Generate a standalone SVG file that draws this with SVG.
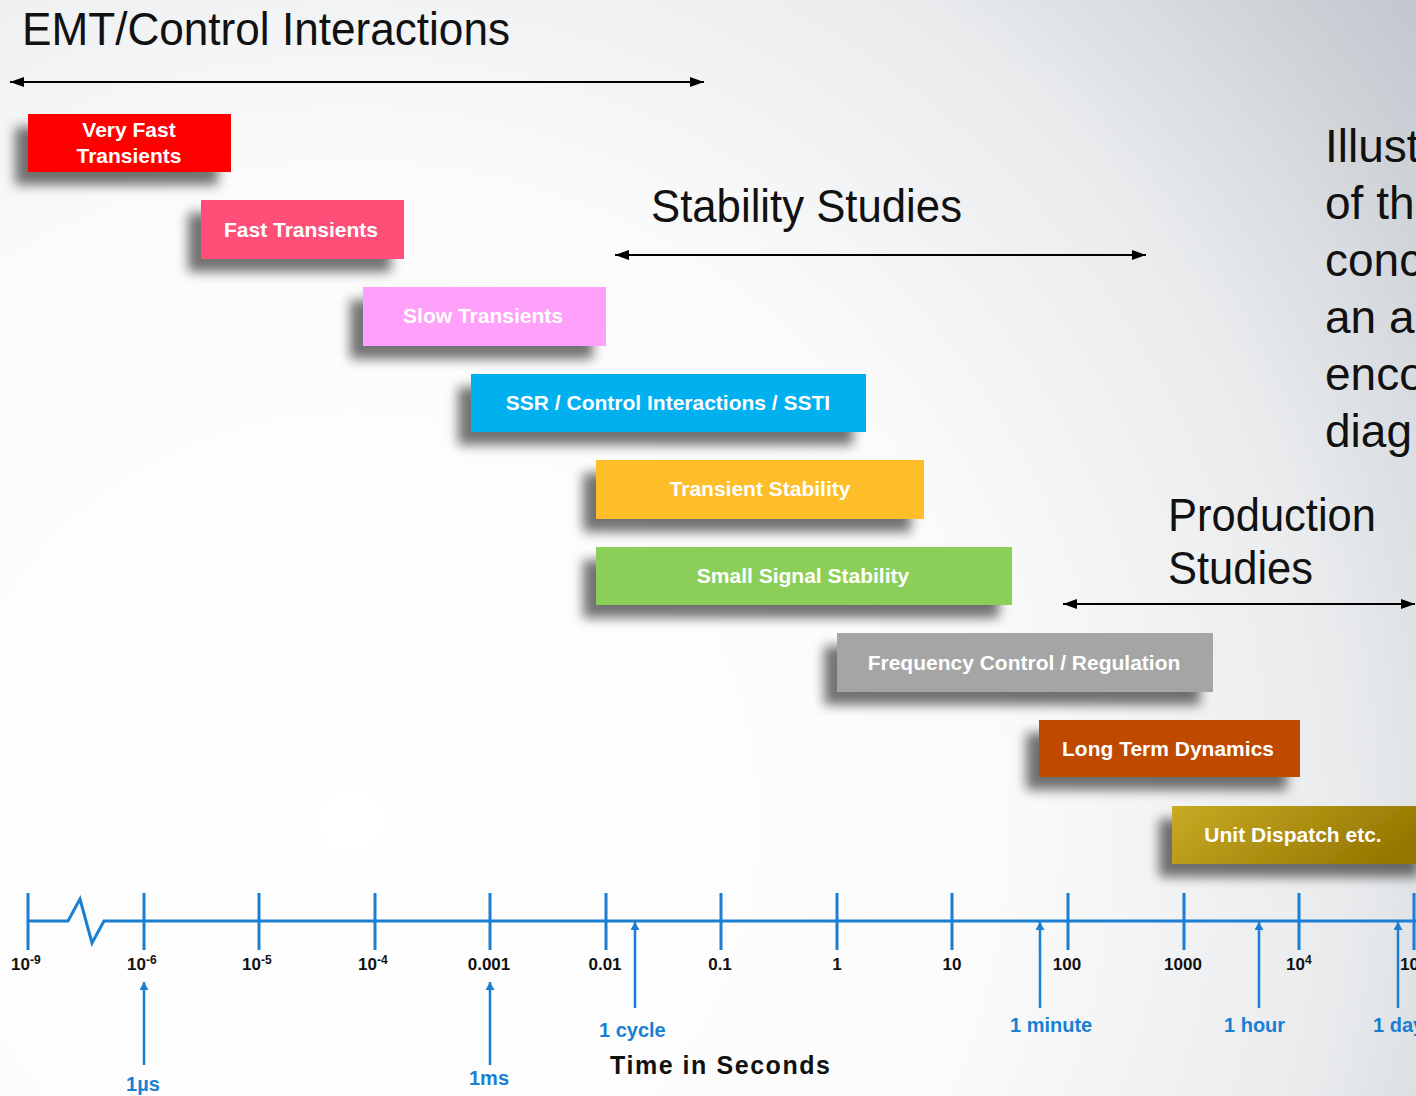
<svg xmlns="http://www.w3.org/2000/svg" width="1416" height="1096" viewBox="0 0 1416 1096">
  <defs>
    <radialGradient id="bg" gradientUnits="userSpaceOnUse" cx="350" cy="820" r="1420">
      <stop offset="0" stop-color="#ffffff"/>
      <stop offset="0.45" stop-color="#fbfbfb"/>
      <stop offset="0.7" stop-color="#e9ebed"/>
      <stop offset="1" stop-color="#b9bfc7"/>
    </radialGradient>
    <linearGradient id="gold" x1="0" y1="0" x2="1" y2="0.3">
      <stop offset="0" stop-color="#c9aa25"/>
      <stop offset="1" stop-color="#957700"/>
    </linearGradient>
    <filter id="shadow" x="-20%" y="-30%" width="140%" height="180%">
      <feGaussianBlur in="SourceAlpha" stdDeviation="6"/>
      <feOffset dx="-13" dy="13"/>
      <feComponentTransfer><feFuncA type="linear" slope="0.55"/></feComponentTransfer>
      <feMerge><feMergeNode/><feMergeNode in="SourceGraphic"/></feMerge>
    </filter>
    <marker id="blackHead" viewBox="0 0 14 10" markerWidth="14" markerHeight="10" refX="14" refY="5" markerUnits="userSpaceOnUse" orient="auto-start-reverse">
      <path d="M0,0 L14,5 L0,10 z" fill="#000"/>
    </marker>
    <marker id="blueHead" viewBox="0 0 8 9" markerWidth="8" markerHeight="9" refX="8" refY="4.5" markerUnits="userSpaceOnUse" orient="auto">
      <path d="M0,0 L8,4.5 L0,9 z" fill="#1a7fd2"/>
    </marker>
    <style>
      .heading { font-family: "Liberation Sans", Arial, sans-serif; font-size: 46px; fill: #111; }
      .box rect { filter: url(#shadow); }
      .box text { font-family: "Liberation Sans", Arial, sans-serif; font-size: 21px; font-weight: bold; fill: #fff; text-anchor: middle; }
      .span { stroke: #000; stroke-width: 2; fill: none; marker-start: url(#blackHead); marker-end: url(#blackHead); }
      .axis { stroke: #1a7fd2; stroke-width: 3; fill: none; }
      .tick { font-family: "Liberation Sans", Arial, sans-serif; font-size: 17px; font-weight: bold; fill: #111; }
      .sup { font-size: 12px; }
      .pointer { stroke: #1a7fd2; stroke-width: 2.5; fill: none; marker-end: url(#blueHead); }
      .unit { font-family: "Liberation Sans", Arial, sans-serif; font-size: 20px; font-weight: bold; fill: #1a7fd2; }
    </style>
  </defs>

  <rect width="1416" height="1096" fill="url(#bg)"/>

  <!-- study-range headings -->
  <g id="headings">
    <text class="heading" x="22" y="45" textLength="488" lengthAdjust="spacingAndGlyphs">EMT/Control Interactions</text>
    <text class="heading" x="651" y="222" textLength="311" lengthAdjust="spacingAndGlyphs">Stability Studies</text>
    <text class="heading" x="1168" y="531" textLength="208" lengthAdjust="spacingAndGlyphs">Production</text>
    <text class="heading" x="1168" y="584" textLength="145" lengthAdjust="spacingAndGlyphs">Studies</text>
  </g>

  <!-- side note, runs off the right edge -->
  <g id="note" class="heading">
    <text x="1325" y="162">Illust</text>
    <text x="1325" y="219">of th</text>
    <text x="1325" y="276">conc</text>
    <text x="1325" y="333">an a</text>
    <text x="1325" y="390">enco</text>
    <text x="1325" y="447">diag</text>
  </g>

  <!-- range arrows -->
  <g id="connectors">
    <line class="span" x1="10" y1="82" x2="704" y2="82"/>
    <line class="span" x1="615" y1="255" x2="1146" y2="255"/>
    <line class="span" x1="1063" y1="604" x2="1415" y2="604"/>
  </g>

  <!-- phenomena bars -->
  <g id="very-fast-transients" class="box">
    <rect x="28" y="114" width="203" height="58" fill="#ff0000"/>
    <text x="129" y="137">Very Fast</text>
    <text x="129" y="163">Transients</text>
  </g>
  <g id="fast-transients" class="box">
    <rect x="201" y="200" width="203" height="59" fill="#ff5078"/>
    <text x="301" y="237">Fast Transients</text>
  </g>
  <g id="slow-transients" class="box">
    <rect x="363" y="287" width="243" height="59" fill="#ffa0fb"/>
    <text x="483" y="323">Slow Transients</text>
  </g>
  <g id="ssr" class="box">
    <rect x="471" y="374" width="395" height="58" fill="#00b0ef"/>
    <text x="668" y="410">SSR / Control Interactions / SSTI</text>
  </g>
  <g id="transient-stability" class="box">
    <rect x="596" y="460" width="328" height="59" fill="#febe2c"/>
    <text x="760" y="496">Transient Stability</text>
  </g>
  <g id="small-signal-stability" class="box">
    <rect x="596" y="547" width="416" height="58" fill="#8ccf58"/>
    <text x="803" y="583">Small Signal Stability</text>
  </g>
  <g id="frequency-control" class="box">
    <rect x="837" y="633" width="376" height="59" fill="#a5a5a5"/>
    <text x="1024" y="670">Frequency Control / Regulation</text>
  </g>
  <g id="long-term-dynamics" class="box">
    <rect x="1039" y="720" width="261" height="57" fill="#c04a00"/>
    <text x="1168" y="756">Long Term Dynamics</text>
  </g>
  <g id="unit-dispatch" class="box">
    <rect x="1172" y="806" width="260" height="58" fill="url(#gold)"/>
    <text x="1293" y="842">Unit Dispatch etc.</text>
  </g>

  <!-- time axis -->
  <g id="time-axis">
    <path class="axis" d="M28,921 H68 L80,899 L92,943 L104,921 H1416"/>
    <path class="axis" d="M28,893 V950 M144,893 V950 M259,893 V950 M375,893 V950 M490,893 V950 M606,893 V950 M721,893 V950 M837,893 V950 M952,893 V950 M1068,893 V950 M1184,893 V950 M1299,893 V950 M1414,893 V950"/>
    <text class="tick" x="11" y="970">10<tspan class="sup" dy="-6">-9</tspan></text>
    <text class="tick" x="127" y="970">10<tspan class="sup" dy="-6">-6</tspan></text>
    <text class="tick" x="242" y="970">10<tspan class="sup" dy="-6">-5</tspan></text>
    <text class="tick" x="358" y="970">10<tspan class="sup" dy="-6">-4</tspan></text>
    <text class="tick" x="489" y="970" text-anchor="middle">0.001</text>
    <text class="tick" x="605" y="970" text-anchor="middle">0.01</text>
    <text class="tick" x="720" y="970" text-anchor="middle">0.1</text>
    <text class="tick" x="837" y="970" text-anchor="middle">1</text>
    <text class="tick" x="952" y="970" text-anchor="middle">10</text>
    <text class="tick" x="1067" y="970" text-anchor="middle">100</text>
    <text class="tick" x="1183" y="970" text-anchor="middle">1000</text>
    <text class="tick" x="1286" y="970">10<tspan class="sup" dy="-6">4</tspan></text>
    <text class="tick" x="1400" y="970">10</text>
    <text x="610" y="1074" textLength="220" font-family="'Liberation Sans', Arial, sans-serif" font-size="25" font-weight="bold" fill="#111">Time in Seconds</text>
  </g>

  <!-- reference durations -->
  <g id="durations">
    <line class="pointer" x1="144" y1="1065" x2="144" y2="982"/>
    <line class="pointer" x1="490" y1="1065" x2="490" y2="982"/>
    <line class="pointer" x1="635" y1="1008" x2="635" y2="922"/>
    <line class="pointer" x1="1040" y1="1008" x2="1040" y2="922"/>
    <line class="pointer" x1="1259" y1="1008" x2="1259" y2="922"/>
    <line class="pointer" x1="1398" y1="1008" x2="1398" y2="922"/>
    <text class="unit" x="143" y="1091" text-anchor="middle">1µs</text>
    <text class="unit" x="489" y="1085" text-anchor="middle">1ms</text>
    <text class="unit" x="599" y="1037">1 cycle</text>
    <text class="unit" x="1010" y="1032">1 minute</text>
    <text class="unit" x="1224" y="1032">1 hour</text>
    <text class="unit" x="1373" y="1032">1 day</text>
  </g>
</svg>
